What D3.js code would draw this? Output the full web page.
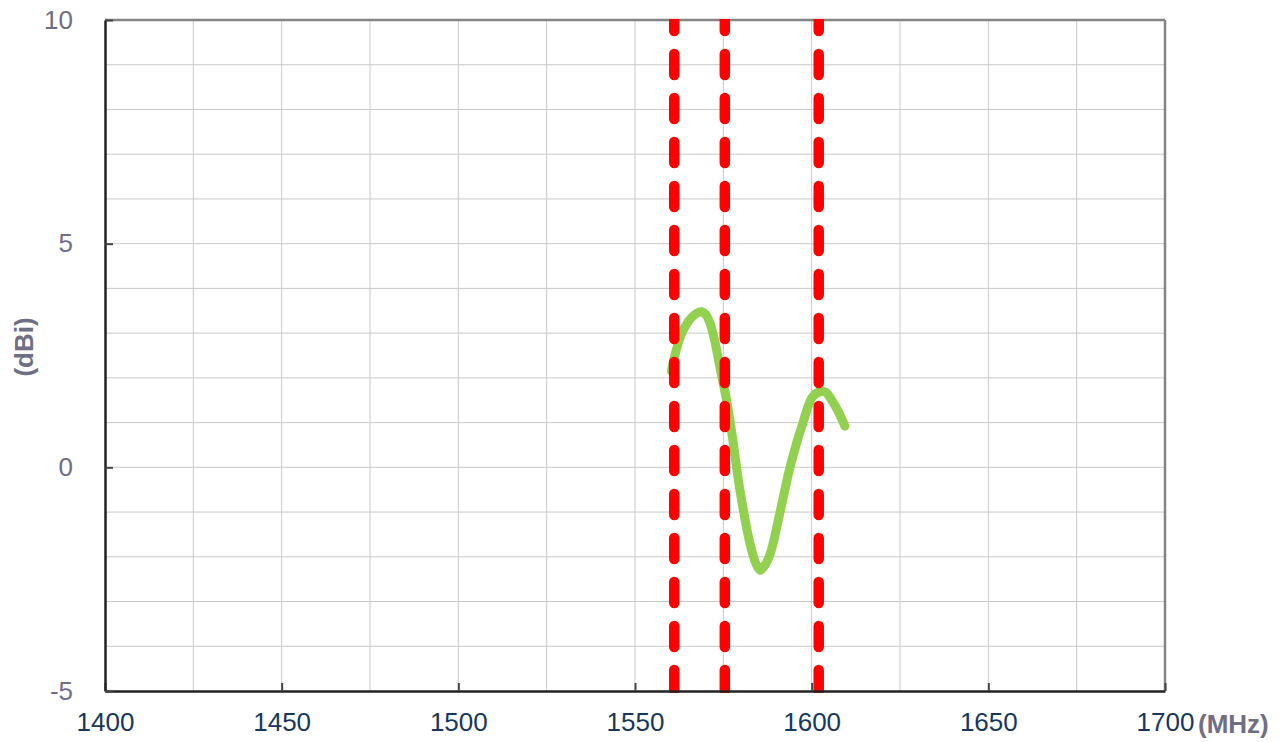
<!DOCTYPE html>
<html>
<head>
<meta charset="utf-8">
<script src="https://cdn.jsdelivr.net/npm/d3@7"></script>
<style>
  body { margin: 0; background: #fff; }
  .grid line { stroke: #c9c9c9; stroke-width: 1; }
</style>
</head>
<body>
<div id="chart-area"></div>
<script>

// gain curve (MHz, dBi)
var freqs = [1560.3, 1561.3, 1563, 1565, 1567, 1568.9, 1570, 1571.2, 1572.5, 1574, 1575.9, 1577.4,
             1579.7, 1582.5, 1584.2, 1585.4, 1586.5, 1588.2, 1591, 1593.9, 1597.5, 1600.3,
             1602.8, 1604, 1605.6, 1607.5, 1609.4];
var gains = [2.15, 2.51, 2.95, 3.25, 3.42, 3.48, 3.42, 3.23, 2.85, 2.25, 1.51, 0.77,
             -0.51, -1.69, -2.15, -2.3, -2.22, -1.95, -1.02, 0.01, 0.99, 1.58,
             1.7, 1.68, 1.51, 1.25, 0.92];

// band markers (MHz)
var bands = [1561.1, 1575.42, 1602];

var xTicks = [1400, 1450, 1500, 1550, 1600, 1650, 1700];
var yTicks = [-5, 0, 5, 10];


GainChart = function(_parentElement, _freqs, _gains, _bands){
	this.parentElement = _parentElement;
	this.freqs = _freqs;
	this.gains = _gains;
	this.bands = _bands;

	this.initVis();
}


GainChart.prototype.initVis = function(){
	var vis = this;

	vis.margin = {top: 20, right: 120, bottom: 51, left: 105};
	vis.width = 1285 - vis.margin.left - vis.margin.right;
	vis.height = 742 - vis.margin.top - vis.margin.bottom;

	vis.x = d3.scaleLinear().domain([1400, 1700]).range([0, vis.width]);
	vis.y = d3.scaleLinear().domain([-5, 10]).range([vis.height, 0]);

	vis.svg = d3.select("#" + vis.parentElement).append("svg")
		.attr("width", 1285)
		.attr("height", 742)
		.append("g")
		.attr("transform", "translate(" + vis.margin.left + "," + vis.margin.top + ")");

	vis.svg.append("clipPath")
		.attr("id", "plot-clip")
		.append("rect")
		.attr("y", -1)
		.attr("width", vis.width)
		.attr("height", vis.height + 3);

	vis.updateVis();
}


GainChart.prototype.updateVis = function(){
	var vis = this;

	// grid: every 25 MHz and every 1 dBi
	var grid = vis.svg.append("g").attr("class", "grid");
	grid.selectAll(".vgrid")
		.data(d3.range(1425, 1700, 25))
		.enter().append("line")
		.attr("x1", d => vis.x(d)).attr("x2", d => vis.x(d))
		.attr("y1", 0).attr("y2", vis.height);
	grid.selectAll(".hgrid")
		.data(d3.range(-4, 10, 1))
		.enter().append("line")
		.attr("x1", 0).attr("x2", vis.width)
		.attr("y1", d => vis.y(d)).attr("y2", d => vis.y(d));

	// frame: top/right grey, left/bottom black
	vis.svg.append("line")
		.attr("x1", 0).attr("x2", vis.width).attr("y1", 0).attr("y2", 0)
		.attr("stroke", "#858585").attr("stroke-width", 2.5);
	vis.svg.append("line")
		.attr("x1", vis.width).attr("x2", vis.width).attr("y1", 0).attr("y2", vis.height)
		.attr("stroke", "#858585").attr("stroke-width", 2.5);

	// gain curve
	var line = d3.line()
		.x(d => vis.x(d[0]))
		.y(d => vis.y(d[1]))
		.curve(d3.curveCatmullRom);

	vis.svg.append("path")
		.datum(vis.freqs.map((f, i) => [f, vis.gains[i]]))
		.attr("d", line)
		.attr("fill", "none")
		.attr("stroke", "#92d050")
		.attr("stroke-width", 9)
		.attr("stroke-linecap", "round")
		.attr("stroke-linejoin", "round");

	// band markers, drawn bottom to top
	vis.svg.append("g")
		.attr("clip-path", "url(#plot-clip)")
		.selectAll("line")
		.data(vis.bands)
		.enter().append("line")
		.attr("x1", d => vis.x(d)).attr("x2", d => vis.x(d))
		.attr("y1", vis.height).attr("y2", 0)
		.attr("stroke", "#ff0000")
		.attr("stroke-width", 10.5)
		.attr("stroke-linecap", "round")
		.attr("stroke-dasharray", "21,23");

	// axes
	var fmt = d => String(d);
	var xAxis = d3.axisBottom(vis.x).tickValues(xTicks).tickFormat(fmt).tickSizeInner(-8).tickSizeOuter(0).tickPadding(22);
	var yAxis = d3.axisLeft(vis.y).tickValues(yTicks).tickFormat(fmt).tickSizeInner(-8).tickSizeOuter(0).tickPadding(32);

	var gx = vis.svg.append("g")
		.attr("transform", "translate(0," + vis.height + ")")
		.call(xAxis);
	gx.select(".domain").attr("stroke", "#222").attr("stroke-width", 2.5);
	gx.selectAll(".tick line").attr("stroke", "#444").attr("stroke-width", 2);
	gx.selectAll(".tick text")
		.style("font-family", "Liberation Sans, Arial, sans-serif")
		.style("font-size", "26px")
		.attr("fill", "#17375e");

	var gy = vis.svg.append("g").call(yAxis);
	gy.select(".domain").attr("stroke", "#222").attr("stroke-width", 2.5);
	gy.selectAll(".tick line").attr("stroke", "#444").attr("stroke-width", 2);
	gy.selectAll(".tick text")
		.style("font-family", "Liberation Sans, Arial, sans-serif")
		.style("font-size", "26px")
		.attr("fill", "#6f6e85");

	// unit labels
	vis.svg.append("text")
		.attr("x", vis.width + 33)
		.attr("y", vis.height + 42)
		.style("font-family", "Liberation Sans, Arial, sans-serif")
		.style("font-size", "26px")
		.style("font-weight", "bold")
		.attr("fill", "#6f6e85")
		.text("(MHz)");

	vis.svg.append("text")
		.attr("transform", "translate(" + (-72) + "," + vis.y(2.69) + ") rotate(-90)")
		.attr("text-anchor", "middle")
		.style("font-family", "Liberation Sans, Arial, sans-serif")
		.style("font-size", "26px")
		.style("font-weight", "bold")
		.attr("fill", "#6f6e85")
		.text("(dBi)");
}

var chart = new GainChart("chart-area", freqs, gains, bands);

</script>
</body>
</html>
